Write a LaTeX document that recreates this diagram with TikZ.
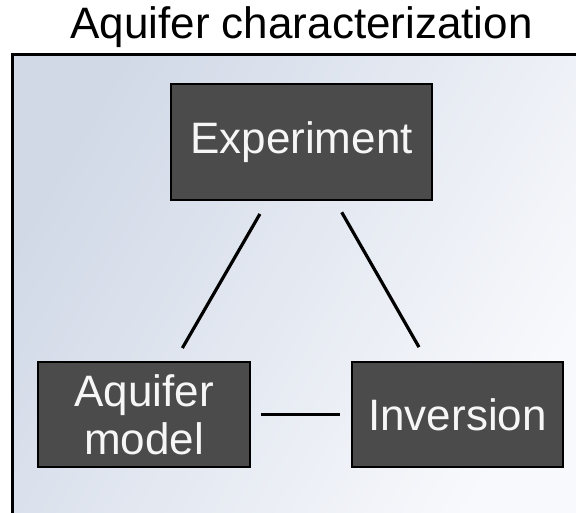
\documentclass[tikz,border=0pt]{standalone}
\usepackage{fontspec}
\setmainfont{Liberation Sans}
\definecolor{boxfill}{HTML}{4B4B4B}
\definecolor{boxtext}{HTML}{F6F6F6}
\definecolor{bgdark}{RGB}{209,217,231}
\definecolor{bglight}{RGB}{248,249,252}
\begin{document}
\begin{tikzpicture}[x=1pt,y=-1pt,
  stepbox/.style={draw=black, line width=2pt, fill=boxfill, text=boxtext,
    font=\fontsize{44}{48}\selectfont, align=center, inner sep=0pt},
  link/.style={line width=3.2pt, black}]
\useasboundingbox (0,0) rectangle (576,512);
\begin{scope}
\clip (0,0) rectangle (576,512);
\shade[left color=bgdark, right color=bglight, shading angle=60]
  (12.5,54.5) rectangle (580,514);
\draw[line width=2.5pt] (12.5,54.5) rectangle (580,514);
\end{scope}
\node[anchor=base, font=\fontsize{44}{48}\selectfont] (title) at (301.5,38) {Aquifer characterization};
\node[stepbox, minimum width=261pt, minimum height=116pt] (exp) at (301.5,142) {Experiment};
\node[stepbox, minimum width=212pt, minimum height=105pt] (aq) at (144,414.5) {Aquifer\\model};
\node[stepbox, minimum width=211pt, minimum height=105pt] (inv) at (457.5,414.5) {Inversion};
\draw[link, shorten <=15pt, shorten >=15pt] (exp) -- (aq);
\draw[link, shorten <=13pt, shorten >=16pt] (exp) -- (inv);
\draw[link, shorten <=10pt, shorten >=11pt] (aq) -- (inv);
\end{tikzpicture}
\end{document}
